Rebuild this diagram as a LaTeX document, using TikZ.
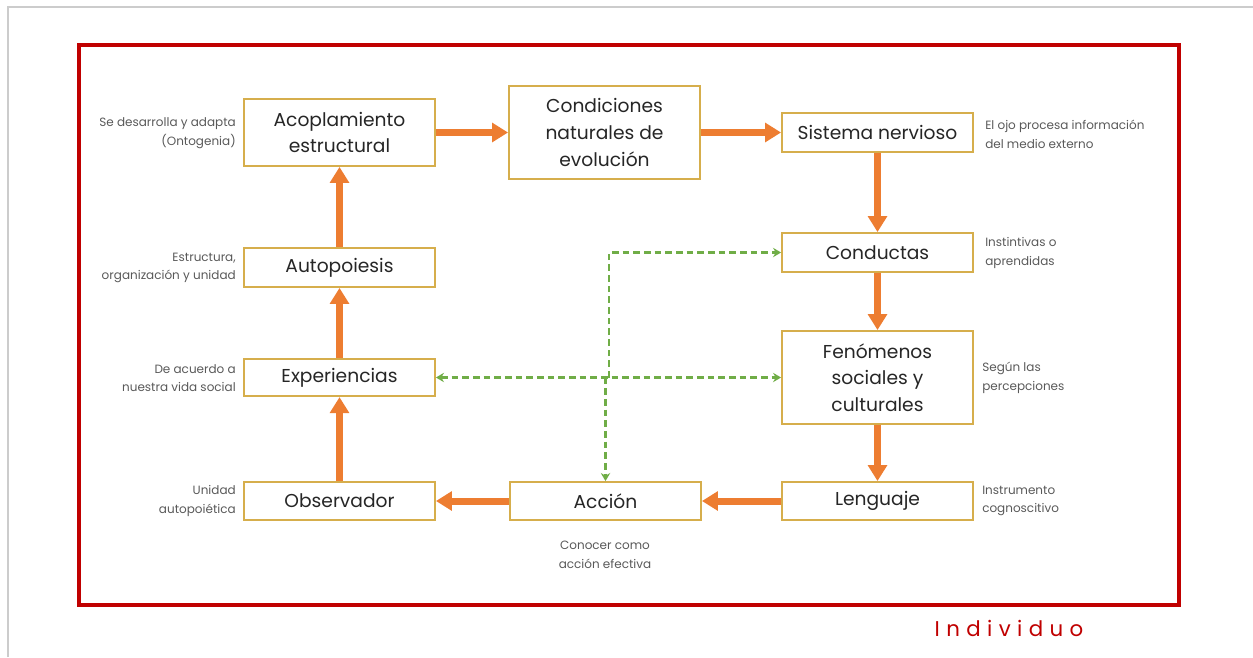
\documentclass[tikz,border=0pt]{standalone}
\usepackage{fontspec}
\setmainfont{Poppins}
\usetikzlibrary{arrows.meta}
\definecolor{frame}{HTML}{CCCCCC}
\definecolor{redb}{HTML}{C00000}
\definecolor{gold}{HTML}{D6AE4C}
\definecolor{orng}{HTML}{ED7D31}
\definecolor{grn}{HTML}{70AD47}
\definecolor{lbl}{HTML}{595959}
\begin{document}
\begin{tikzpicture}[x=0.75pt,y=-0.75pt,
  box/.style={draw=gold, line width=1.4pt, fill=white, align=center, inner sep=0pt,
    minimum width=143.25pt, font=\fontsize{14}{20}\selectfont, text=black!85},
  flow/.style={draw=orng, line width=5.25pt, -{Triangle[width=14pt,length=12pt]}},
  link/.style={draw=grn, line width=1.6pt, dash pattern=on 5pt off 3pt},
  ltip/.style={-{Stealth[length=6pt,width=7pt]}},
  note/.style={text=lbl, inner sep=0pt, font=\fontsize{9}{14}\selectfont},
  notel/.style={note, align=right, anchor=east},
  noter/.style={note, align=left, anchor=west}]
\useasboundingbox (0,0) rectangle (1253,657);
% page frame
\draw[frame, line width=1.5pt] (8,657) coordinate (fa) -- (8,7) coordinate (fb) -- (1253,7) coordinate (fc);
% red frame
\draw[redb, line width=2.4pt] (79,45) rectangle (1179,605);
% boxes
\node[box, minimum height=50.25pt] (acop) at (339.5,132.5) {Acoplamiento\\estructural};
\node[box, minimum height=69.75pt] (cond) at (604.5,132.5) {Condiciones\\naturales de\\evolución};
\node[box, minimum height=29.25pt] (sist) at (877.5,132.5) {Sistema nervioso};
\node[box, minimum height=29.25pt] (condu) at (877.5,252.5) {Conductas};
\node[box, minimum height=69.75pt] (fen) at (877.5,377.5) {Fenómenos\\sociales y\\culturales};
\node[box, minimum height=28.5pt] (leng) at (877.5,501) {Lenguaje};
\node[box, minimum height=28.5pt] (acc) at (605.5,501) {Acción};
\node[box, minimum height=28.5pt] (obs) at (339.5,501) {Observador};
\node[box, minimum height=28pt] (exp) at (339.5,377.5) {Experiencias};
\node[box, minimum height=29.25pt] (auto) at (339.5,267.5) {Autopoiesis};
% orange flow
\draw[flow] (acop.east) -- (cond.west);
\draw[flow] (cond.east) -- (sist.west);
\draw[flow] (sist.south) -- (condu.north);
\draw[flow] (condu.south) -- (fen.north);
\draw[flow] (fen.south) -- (leng.north);
\draw[flow] (leng.west) -- (acc.east);
\draw[flow] (acc.west) -- (obs.east);
\draw[flow] (obs.north) -- (exp.south);
\draw[flow] (exp.north) -- (auto.south);
\draw[flow] (auto.north) -- (acop.south);
% green links
\coordinate (jx) at (609,377.5);
\draw[link, {Stealth[length=6pt,width=7pt]}-{Stealth[length=6pt,width=7pt]}] (exp.east) -- (fen.west);
\draw[link, ltip] (jx) -- (609,252.5) -- (condu.west);
\draw[link, ltip] (acc.north |- jx) -- (acc.north);
% notes
\node[notel] (n1) at (236,133) {Se desarrolla y adapta\\(Ontogenia)};
\node[notel] (n2) at (236,268) {Estructura,\\organización y unidad};
\node[notel] (n3) at (236,378) {De acuerdo a\\nuestra vida social};
\node[notel] (n4) at (236,501) {Unidad\\autopoiética};
\node[noter] (n5) at (985,134) {El ojo procesa información\\del medio externo};
\node[noter] (n6) at (985,253) {Instintivas o\\aprendidas};
\node[noter] (n7) at (982,378) {Según las\\percepciones};
\node[noter] (n8) at (982,501) {Instrumento\\cognoscitivo};
\node[note, align=center] (n9) at (605,555) {Conocer como\\acción efectiva};
\node[text=redb, inner sep=0pt, font=\fontsize{16}{20}\selectfont\addfontfeature{LetterSpace=30}] (ind) at (1009,628) {Individuo};
\end{tikzpicture}
\end{document}
